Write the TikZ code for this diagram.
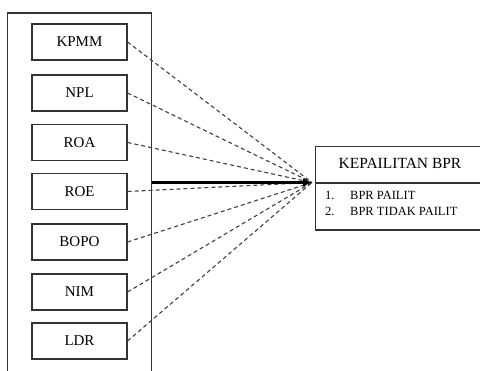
\documentclass[tikz,border=0pt]{standalone}
\usepackage{fontspec}
\setmainfont{Liberation Serif}
\usetikzlibrary{arrows.meta}
\begin{document}
\begin{tikzpicture}[x=1pt,y=-1pt,
  varbox/.style={draw=black!80, line width=1.1pt, minimum width=95pt, minimum height=36pt,
    inner sep=0pt, font=\fontsize{15}{15}\selectfont, anchor=center},
  framepart/.style={draw=black!80, line width=1.5pt},
  link/.style={draw=black!75, line width=1.1pt, dash pattern=on 4pt off 3pt},
  mainlink/.style={draw=black, line width=2.2pt, -{Latex[length=9pt,width=9pt]}},
  outbox/.style={draw=black!80, line width=1.1pt, inner sep=0pt, anchor=north west}]
\useasboundingbox (0,0) rectangle (480,371);

% frame holding the indicator boxes (open at the bottom)
\draw[framepart] (7.5,371) -- (7.5,13) -- (151.5,13) -- (151.5,371);
\coordinate (frameout) at (151.5,182.5);

% indicator boxes
\node[varbox] (kpmm) at (79.5,42)   {KPMM};
\node[varbox] (npl)  at (79.5,93)   {NPL};
\node[varbox] (roa)  at (79.5,142.5){ROA};
\node[varbox] (roe)  at (79.5,191.5){ROE};
\node[varbox] (bopo) at (79.5,242)  {BOPO};
\node[varbox] (nim)  at (79.5,292)  {NIM};
\node[varbox] (ldr)  at (79.5,341)  {LDR};

% outcome box
\node[outbox, minimum width=168pt, minimum height=36.5pt] (head) at (315,146) {};
\node[outbox, minimum width=168pt, minimum height=47pt] (body) at (315,182.5) {};
\node[font=\fontsize{15.5}{15.5}\selectfont, anchor=center] (title) at (400,163) {KEPAILITAN BPR};
\node[font=\fontsize{12.5}{12.5}\selectfont, anchor=west, inner sep=0pt] (l1n) at (325,195) {1.};
\node[font=\fontsize{12.5}{12.5}\selectfont, anchor=west, inner sep=0pt] (l1) at (350,195) {BPR PAILIT};
\node[font=\fontsize{12.5}{12.5}\selectfont, anchor=west, inner sep=0pt] (l2n) at (325,211) {2.};
\node[font=\fontsize{12.5}{12.5}\selectfont, anchor=west, inner sep=0pt] (l2) at (350,211) {BPR TIDAK PAILIT};

\coordinate (hub) at (312,182.5);

% links
\foreach \v in {kpmm,npl,roa,roe,bopo,nim,ldr}
  \draw[link] (\v.east) -- (hub);
\draw[mainlink] (frameout) -- (hub);
\end{tikzpicture}
\end{document}
